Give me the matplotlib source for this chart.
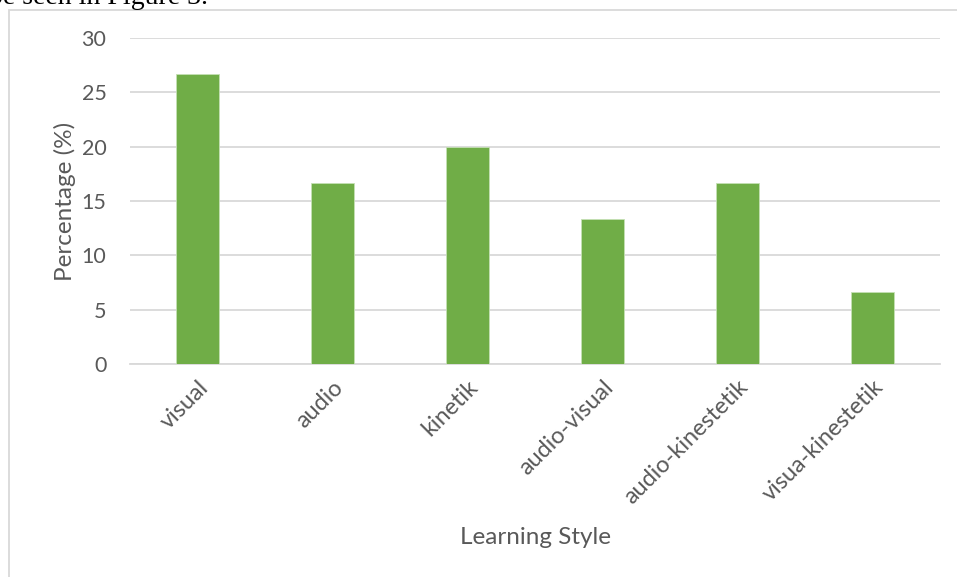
import matplotlib.pyplot as plt
from matplotlib.patches import Rectangle

# Data
styles = ['visual', 'audio', 'kinetik', 'audio-visual', 'audio-kinestetik', 'visua-kinestetik']
percent = [26.67, 16.67, 20.0, 13.33, 16.67, 6.67]
y_ticks = [0, 5, 10, 15, 20, 25, 30]

text_col = '#595959'
grid_col = '#d9d9d9'
bar_col = '#70ad47'
font = 'Lato'

fig = plt.figure(figsize=(9.57, 5.77), dpi=100)

# chart frame (runs off the right and bottom of the picture)
fig.patches.append(Rectangle((9 / 957, -0.05), 1.2, 1 - 10 / 577 + 0.05,
                             transform=fig.transFigure, fill=False,
                             edgecolor=grid_col, linewidth=1.3))

# cut-off line of document text above the chart
fig.text(-0.012, 1 - 4.5 / 577, 'be seen in Figure 3.', family='Liberation Serif',
         fontsize=20, va='baseline', ha='left', color='black')

ax = fig.add_axes([130 / 957, 1 - 364 / 577, 810 / 957, 326 / 577])

x = range(len(styles))
ax.bar(x, percent, width=0.315, color=bar_col, edgecolor='#c5e0b4', linewidth=0.6, zorder=3)

ax.set_xlim(-0.5, len(styles) - 0.5)
ax.set_ylim(0, 30)
ax.set_yticks(y_ticks)
ax.set_yticklabels([str(v) for v in y_ticks], family=font, fontsize=15.5, color=text_col)
ax.set_xticks(list(x))
ax.set_xticklabels(styles, rotation=45, ha='right', rotation_mode='anchor',
                   family=font, fontsize=16.8, color=text_col)

ax.grid(axis='y', color=grid_col, linewidth=1.3, zorder=0)
ax.tick_params(axis='both', length=0)
ax.tick_params(axis='y', pad=17)
ax.tick_params(axis='x', pad=9)
for side in ['top', 'right', 'left']:
    ax.spines[side].set_visible(False)
ax.spines['bottom'].set_color(grid_col)
ax.spines['bottom'].set_linewidth(1.3)

ax.set_ylabel('Percentage (%)', family=font, fontsize=17.5, color=text_col)
ax.yaxis.set_label_coords(-(130 - 65) / 810, 0.5)
ax.set_xlabel('Learning Style', family=font, fontsize=17.5, color=text_col)
ax.xaxis.set_label_coords((535 - 130) / 810, -(538 - 364) / 326)
ax.xaxis.label.set_va('center')
ax.yaxis.label.set_va('center')

fig.savefig('out.png', dpi=100)
